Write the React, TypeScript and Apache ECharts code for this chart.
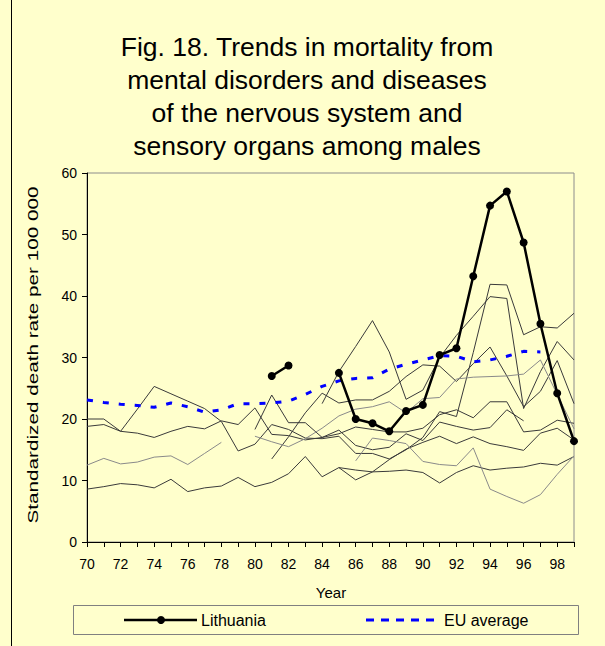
import React, { useEffect, useRef } from "react";
import * as echarts from "echarts";

const years = ["70","71","72","73","74","75","76","77","78","79","80","81","82","83","84","85","86","87","88","89","90","91","92","93","94","95","96","97","98","99"];

const lithuania = [null,null,null,null,null,null,null,null,null,null,null,27.0,28.7,null,null,27.5,20.0,19.3,18.0,21.3,22.3,30.4,31.5,43.2,54.7,57.0,48.7,35.5,24.2,16.4];
const euAverage = [23.1,22.7,22.4,22.2,21.9,22.6,22.0,21.1,21.5,22.5,22.5,22.6,22.9,24.0,25.3,26.2,26.6,26.7,28.1,28.9,29.6,30.3,30.2,29.3,29.6,30.2,31.0,30.9,null,null];

// other countries (unlabelled thin lines)
const country1 = [8.6,9.0,9.5,9.3,8.8,10.2,8.2,8.8,9.1,10.5,9.0,9.7,11.1,13.9,10.6,12.1,11.7,11.4,11.5,11.7,11.3,9.6,11.3,12.4,11.7,12.0,12.2,12.8,12.5,13.9];
const country2 = [12.5,13.6,12.7,13.0,13.8,14.0,12.6,14.4,16.2,null,null,null,null,null,null,null,null,null,null,null,null,null,null,null,null,null,null,null,null,null];
const country3 = [18.8,19.1,18.0,17.7,17.0,18.0,18.8,18.4,19.7,19.1,21.8,17.5,17.3,16.6,17.0,17.6,18.7,18.3,17.9,17.9,18.5,20.7,21.5,20.2,22.8,22.8,17.9,18.2,19.8,19.3];
const country4 = [20.0,20.0,18.0,21.6,25.3,24.1,22.9,21.7,19.6,14.8,15.9,19.1,18.3,16.9,16.8,17.2,14.4,14.4,13.5,15.0,17.0,21.2,20.4,30.8,41.9,41.8,33.7,35.0,34.8,37.2];
const country5 = [null,null,null,null,null,null,null,null,null,null,18.3,23.9,19.4,19.4,17.0,18.2,15.7,15.0,15.4,17.6,16.5,19.5,18.8,18.2,18.6,21.5,19.7,null,null,null];
const country6 = [null,null,null,null,null,null,null,null,null,null,null,13.5,17.1,21.0,24.2,22.6,23.1,23.1,24.5,26.9,28.8,28.6,26.1,29.0,31.7,27.0,22.0,24.5,29.5,22.5];
const country7 = [null,null,null,null,null,null,null,null,null,null,17.2,16.3,15.5,16.8,18.5,20.5,21.6,22.0,22.8,21.0,23.3,23.5,26.5,26.8,26.9,27.0,27.3,29.6,24.0,18.4];
const country8 = [null,null,null,null,null,null,null,null,null,null,null,null,null,null,22.5,27.7,31.8,36.0,30.9,23.2,24.7,30.0,33.6,36.7,39.9,39.6,21.7,27.7,32.6,29.6];
const country9 = [null,null,null,null,null,null,null,null,null,null,null,null,null,null,null,12.1,10.1,11.4,13.4,15.1,16.2,17.2,16.0,17.1,16.0,15.5,14.9,17.7,18.5,16.6];
const country10 = [null,null,null,null,null,null,null,null,null,null,null,null,null,null,null,null,13.2,16.9,16.5,16.0,13.1,12.6,12.4,15.3,8.6,7.4,6.3,7.7,11.0,14.0];

const darkLines = [country1, country3, country4, country5, country6, country8, country9];
const grayLines = [country2, country7, country10];

const yTicks = { min: 0, max: 60, interval: 10 };
const titleText = "Fig. 18. Trends in mortality from\nmental disorders and diseases\nof the nervous system and\nsensory organs among males";
const yName = "Standardized death rate per 100 000";
const xName = "Year";
const legendNames = ["Lithuania", "EU average"];

const FONT = "'Liberation Sans', Arial, Helvetica, sans-serif";
const BG = "#FFFFCC";

export default function App() {
  const ref = useRef<HTMLDivElement>(null);
  useEffect(() => {
    if (!ref.current) return;
    const chart = echarts.init(ref.current, null, { renderer: "svg" });
    const thin = (data: (number | null)[], color: string, i: number) => ({
      type: "line",
      name: "c" + i,
      data,
      symbol: "none",
      connectNulls: false,
      lineStyle: { color, width: 1 },
      silent: true,
      z: 2,
    });
    const series: any[] = [
      ...darkLines.map((d, i) => thin(d, "#3a3a3a", i)),
      ...grayLines.map((d, i) => thin(d, "#8a8a8a", 100 + i)),
      {
        type: "line",
        name: legendNames[1],
        data: euAverage,
        symbol: "none",
        connectNulls: false,
        lineStyle: { color: "#0000FF", width: 3, type: [6, 10], cap: "butt" },
        z: 3,
      },
      {
        type: "line",
        name: legendNames[0],
        data: lithuania,
        symbol: "circle",
        symbolSize: 8,
        connectNulls: false,
        itemStyle: { color: "#000" },
        lineStyle: { color: "#000", width: 2.5 },
        z: 4,
      },
    ];
    chart.setOption({
      animation: false,
      backgroundColor: BG,
      textStyle: { fontFamily: FONT },
      grid: {
        left: 87,
        right: 31,
        top: 173,
        bottom: 104,
        show: true,
        backgroundColor: BG,
        borderColor: "#8c8c8c",
        borderWidth: 1,
        containLabel: false,
      },
      xAxis: {
        type: "category",
        data: years,
        boundaryGap: false,
        axisLine: { lineStyle: { color: "#000", width: 1 } },
        axisTick: { show: true, interval: 0, length: 5, lineStyle: { color: "#000" } },
        axisLabel: { interval: 1, color: "#000", fontSize: 14, margin: 15, fontFamily: FONT },
        splitLine: { show: false },
      },
      yAxis: {
        type: "value",
        min: yTicks.min,
        max: yTicks.max,
        interval: yTicks.interval,
        axisLine: { show: true, lineStyle: { color: "#000", width: 1 } },
        axisTick: { show: true, length: 5, lineStyle: { color: "#000" } },
        axisLabel: { color: "#000", fontSize: 14, margin: 10, fontFamily: FONT },
        splitLine: { show: false },
      },
      series,
      graphic: [
        {
          type: "line",
          shape: { x1: 11.5, y1: 0, x2: 11.5, y2: 646 },
          style: { stroke: "#000", lineWidth: 1 },
        },
        {
          type: "text",
          x: 307,
          y: 30,
          style: {
            text: titleText,
            fontSize: 26.5,
            lineHeight: 33,
            fontFamily: FONT,
            fill: "#000",
            align: "center",
            verticalAlign: "top",
          },
        },
        {
          type: "text",
          x: 33,
          y: 355,
          rotation: Math.PI / 2,
          scaleX: 1.38,
          style: {
            text: yName,
            fontSize: 15,
            fontFamily: FONT,
            fill: "#000",
            align: "center",
            verticalAlign: "middle",
          },
        },
        {
          type: "text",
          x: 331,
          y: 592,
          style: {
            text: xName,
            fontSize: 15,
            fontFamily: FONT,
            fill: "#000",
            align: "center",
            verticalAlign: "middle",
          },
        },
        {
          type: "rect",
          shape: { x: 73.5, y: 605.5, width: 505, height: 29 },
          style: { fill: BG, stroke: "#808080", lineWidth: 1 },
        },
        {
          type: "line",
          shape: { x1: 124, y1: 620, x2: 197, y2: 620 },
          style: { stroke: "#000", lineWidth: 2.5 },
        },
        {
          type: "circle",
          shape: { cx: 161, cy: 620, r: 4 },
          style: { fill: "#000" },
        },
        {
          type: "text",
          x: 201,
          y: 620,
          style: { text: legendNames[0], fontSize: 16, fontFamily: FONT, fill: "#000", verticalAlign: "middle" },
        },
        {
          type: "line",
          shape: { x1: 366, y1: 620, x2: 436, y2: 620 },
          style: { stroke: "#0000FF", lineWidth: 3, lineDash: [8, 7] },
        },
        {
          type: "text",
          x: 444,
          y: 620,
          style: { text: legendNames[1], fontSize: 16, fontFamily: FONT, fill: "#000", verticalAlign: "middle" },
        },
      ],
    });
    return () => chart.dispose();
  }, []);
  return <div ref={ref} style={{ width: 605, height: 646, position: "absolute", left: 0, top: 0 }} />;
}
